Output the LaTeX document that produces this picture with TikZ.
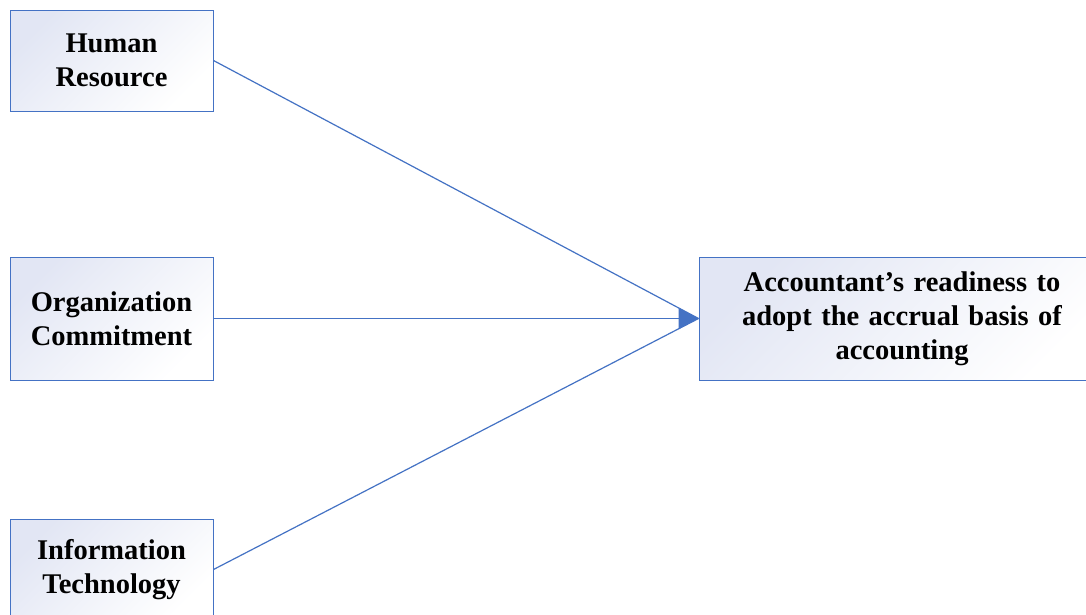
\documentclass[tikz,border=0pt]{standalone}
\usepackage{fontspec}
\setmainfont{Liberation Serif}
\usetikzlibrary{arrows.meta}
\definecolor{edgeblue}{HTML}{4472C4}
\definecolor{boxtop}{HTML}{E2E6F4}
\tikzset{
  box/.style={draw=edgeblue, line width=1pt, top color=boxtop, bottom color=white, shading angle=45,
    inner sep=0pt, align=center, font=\bfseries\fontsize{28.5}{34}\selectfont},
  conn/.style={draw=edgeblue, line width=1.2pt},
}
\begin{document}
\begin{tikzpicture}[x=1pt,y=-1pt]
\clip (0,0) rectangle (1086,614);
\fill[white] (0,0) rectangle (1086,614);
\node[box, minimum width=203pt, minimum height=101pt, text width=203pt] (hr) at (111.5,60.5) {Human\\Resource};
\node[box, minimum width=203pt, minimum height=123pt, text width=203pt] (oc) at (111.5,318.5) {Organization\\Commitment};
\node[box, minimum width=203pt, minimum height=101pt, text width=203pt] (it) at (111.5,569.5) {Information\\Technology};
\node[box, minimum width=406pt, minimum height=123pt, text width=380pt] (ar) at (902,318.5) {\raisebox{-2pt}{\parbox{380pt}{\centering Accountant’s readiness to\\adopt the accrual basis of\\accounting}}};
\draw[conn] (hr.east) -- (ar.west);
\draw[conn] (it.east) -- (ar.west);
\draw[conn, -{Triangle[length=20pt,width=21pt]}] (oc.east) -- (ar.west);
\end{tikzpicture}
\end{document}
